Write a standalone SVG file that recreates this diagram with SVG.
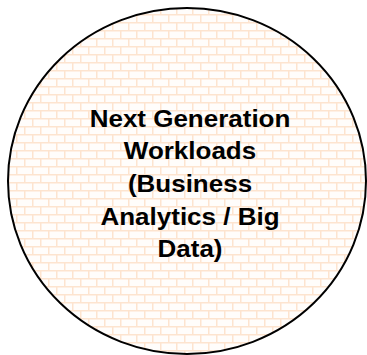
<svg xmlns="http://www.w3.org/2000/svg" width="367" height="355" viewBox="0 0 367 355">
<style>
.lbl{font-family:"Liberation Sans",Arial,sans-serif;font-weight:bold;font-size:23px;fill:#000;text-anchor:middle}
</style>
<defs>
<pattern id="brick" patternUnits="userSpaceOnUse" x="0" y="6" width="16" height="16">
<rect width="16" height="16" fill="#fffdfb"/>
<rect x="0" y="0" width="16" height="1.5" fill="#fde4cf"/>
<rect x="0" y="8" width="16" height="1.5" fill="#fde4cf"/>
<rect x="0" y="0" width="1.5" height="8" fill="#fde4cf"/>
<rect x="8" y="8" width="1.5" height="8" fill="#fde4cf"/>
</pattern>
</defs>
<g id="node-circle">
<ellipse cx="187" cy="181" rx="179" ry="173" fill="url(#brick)" stroke="#000" stroke-width="2"/>
<g transform="translate(190,0) scale(1.13,1)">
<text class="lbl" x="0" y="127">Next Generation</text>
<text class="lbl" x="0" y="159">Workloads</text>
<text class="lbl" x="0" y="192">(Business</text>
<text class="lbl" x="0" y="225">Analytics / Big</text>
<text class="lbl" x="0" y="257">Data)</text>
</g>
</g>
<g id="connectors"></g>
</svg>
